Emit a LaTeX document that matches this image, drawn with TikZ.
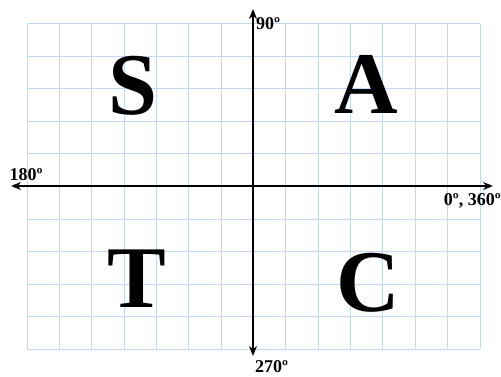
\documentclass[tikz,border=0pt]{standalone}
\usepackage{fontspec}
\setmainfont{Liberation Serif}
\usetikzlibrary{arrows.meta}
\definecolor{gridblue}{RGB}{196,216,240}

\begin{document}
\begin{tikzpicture}[x=1pt, y=-1pt,
  gridline/.style={draw=gridblue, line width=1pt},
  axis/.style={draw=black, line width=2.8pt, {Stealth[length=10pt,width=8pt]}-{Stealth[length=10pt,width=8pt]}},
  quad/.style={font=\fontsize{88}{88}\selectfont\bfseries, inner sep=0pt},
  angle/.style={font=\fontsize{18}{18}\selectfont\bfseries, inner sep=0pt}]
\useasboundingbox (0,0) rectangle (501,377);
% grid
\foreach \i in {0,...,14} \draw[gridline] ({27+\i*453/14},24) -- ({27+\i*453/14},349);
\foreach \j in {0,...,10} \draw[gridline] (27,{24+\j*32.5}) -- (480,{24+\j*32.5});
% axes
\coordinate (west) at (11,186);
\coordinate (east) at (493,186);
\coordinate (north) at (253,9);
\coordinate (south) at (253,356);
\draw[axis] (west) -- (east);
\draw[axis] (south) -- (north);
% angle labels
\node[angle, anchor=west] (a90) at (256,24) {90º};
\node[angle] (a180) at (26,175) {180º};
\node[angle, anchor=east] (a0) at (501,201) {0º, 360º};
\node[angle, anchor=west] (a270) at (255,367) {270º};
% quadrants
\node[quad] (S) at (133,86) {S};
\node[quad] (A) at (366,84) {A};
\node[quad] (T) at (137,279) {T};
\node[quad] (C) at (368,283) {C};
\end{tikzpicture}
\end{document}
